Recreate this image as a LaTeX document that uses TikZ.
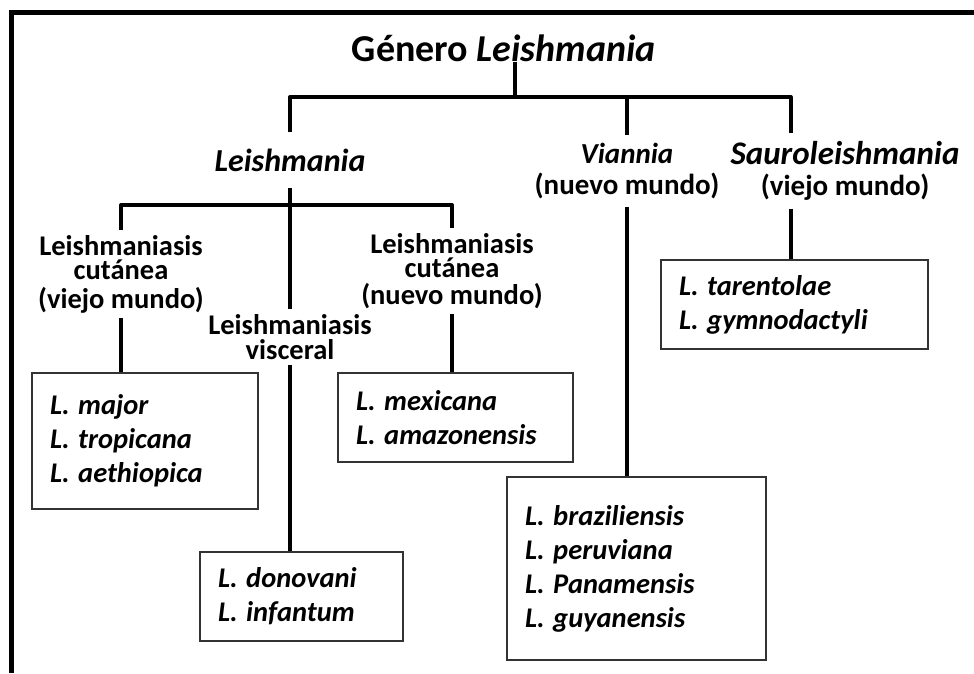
\documentclass[tikz,border=0pt]{standalone}
\usepackage{fontspec}
\setmainfont{Carlito}
\usetikzlibrary{positioning}
\newcommand{\speciesfont}{\frenchspacing\bfseries\itshape\fontsize{28.5}{34}\selectfont\spaceskip=.3em\relax}
\tikzset{%
  genus/.style={font=\bfseries\fontsize{38}{44}\selectfont, inner sep=0pt},
  subgenus/.style={align=center, inner ysep=8, font=\bfseries\fontsize{29}{31}\selectfont},
  % clinical forms
  disease/.style={align=center, inner ysep=5, font=\bfseries\fontsize{28.5}{24.5}\selectfont},
  % boxes with species
  species/.style={rectangle, draw=black!80, line width=2, align=flush left, inner xsep=18, inner ysep=0,
    font=\speciesfont},
  tree/.style={line width=4, line join=round},
}

\begin{document}
\begin{tikzpicture}[x=1pt, y=-1pt]
    \useasboundingbox (0,0) rectangle (974,673);
    \draw[line width=5] (11.5,673) -- (11.5,12.5) -- (974,12.5);

    \node[genus] (genero) at (504,48) {Género \textit{Leishmania}};

    \node[subgenus, font=\bfseries\itshape\fontsize{32}{36}\selectfont, inner ysep=16] (leish) at (290,160) {Leishmania};
    \node[subgenus] (viannia) at (627,171) {\textit{Viannia}\\(nuevo mundo)};
    \node[subgenus] (sauro) at (845,171) {{\fontsize{33}{31}\selectfont\textit{Sauroleishmania}}\\(viejo mundo)};

    \node[disease] (lcviejo) at (121,274) {Leishmaniasis\\cutánea\\[4pt](viejo mundo)};
    \node[disease] (visceral) at (290,337) {Leishmaniasis\\visceral};
    \node[disease] (lcnuevo) at (452,271) {Leishmaniasis\\cutánea\\[2pt](nuevo mundo)};

    \node[species, text width=190pt, minimum height=136] (major) at (145,441) {L. major\\L. tropicana\\L. aethiopica};
    \node[species, text width=167pt, minimum height=89] (donovani) at (301.5,596.5) {L. donovani\\L. infantum};
    \node[species, text width=199pt, minimum height=89] (mexicana) at (455.5,417.5) {L. mexicana\\L. amazonensis};
    \node[species, text width=223pt, minimum height=183] (braziliensis) at (636.5,568.5) {L. braziliensis\\L. peruviana\\L. Panamensis\\L. guyanensis};
    \node[species, text width=231pt, minimum height=89] (tarentolae) at (794.5,304.5) {L. tarentolae\\L. gymnodactyli};

    \coordinate (top) at (515,97);
    \coordinate (split) at (290,205);

    % genus -> subgenera
    \draw[tree] (genero.south -| top) -- (top);
    \draw[tree] (leish.north) |- (top) -| ([xshift=-4]tarentolae.north |- sauro.north);
    \draw[tree] (top -| viannia.north) -- (viannia.north);

    % Leishmania -> clinical forms
    \draw[tree] (leish.south) -- (visceral.north);
    \draw[tree] (lcviejo.north) |- (split) -| (lcnuevo.north);

    \draw[tree] (lcviejo.south) -- (lcviejo.south |- major.north);
    \draw[tree] (visceral.south) -- (visceral.south |- donovani.north);
    \draw[tree] (lcnuevo.south) -- (lcnuevo.south |- mexicana.north);
    \draw[tree] (viannia.south) -- (viannia.south |- braziliensis.north);
    \draw[tree] ([xshift=-4]tarentolae.north |- sauro.south) -- ([xshift=-4]tarentolae.north);

    \end{tikzpicture}
\end{document}
